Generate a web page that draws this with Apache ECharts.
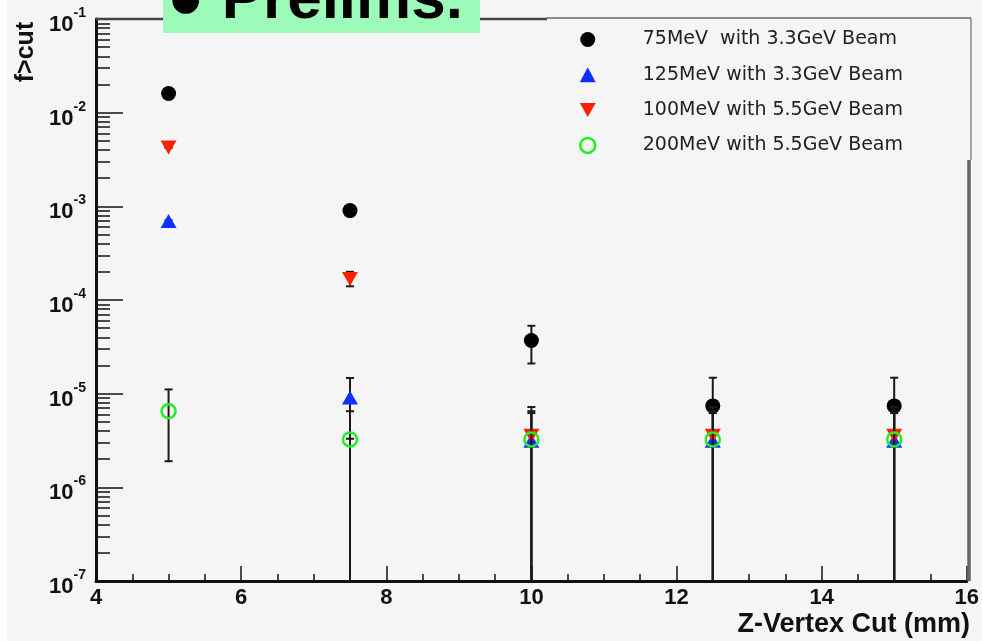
<!DOCTYPE html>
<html>
<head>
<meta charset="utf-8">
<script src="https://cdn.jsdelivr.net/npm/echarts@6/dist/echarts.min.js"></script>
<style>
  html, body { margin: 0; padding: 0; background: #f5f5f5; }
  #chart { width: 982px; height: 641px; }
</style>
</head>
<body>
<div id="chart"></div>
<script>
// Z-vertex cut positions (mm)
const zCuts = [5, 7.5, 10, 12.5, 15];

// Series labels
const seriesNames = [
  '75MeV  with 3.3GeV Beam',
  '125MeV with 3.3GeV Beam',
  '100MeV with 5.5GeV Beam',
  '200MeV with 5.5GeV Beam'
];

// Fraction above cut and its uncertainty, per series
const f75 = [1.6e-2, 9.0e-4, 3.7e-5, 7.4e-6, 7.4e-6];
const f75Err = [3e-4, 3e-5, 1.6e-5, 7.4e-6, 7.4e-6];
const f125 = [6.9e-4, 9.0e-6, 3.1e-6, 3.1e-6, 3.1e-6];
const f125Err = [2e-5, 5.7e-6, 3.1e-6, 3.1e-6, 3.1e-6];
const f100 = [4.3e-3, 1.7e-4, 3.6e-6, 3.6e-6, 3.6e-6];
const f100Err = [1e-4, 3e-5, 3.6e-6, 3.6e-6, 3.6e-6];
const f200 = [6.5e-6, 3.25e-6, 3.25e-6, 3.25e-6, 3.25e-6];
const f200Err = [4.6e-6, 3.25e-6, 3.25e-6, 3.25e-6, 3.25e-6];

// Axis ticks
const xMin = 4, xMax = 16, xStep = 2;
const yDecades = [1e-7, 1e-6, 1e-5, 1e-4, 1e-3, 1e-2, 1e-1];
const yMinorTicks = [];
for (let d = 0; d < yDecades.length - 1; d++) {
  for (let k = 2; k <= 9; k++) yMinorTicks.push(k * yDecades[d]);
}

const FONT = "'Liberation Sans', Arial, Helvetica, sans-serif";
const COLORS = ['#000000', '#1030ff', '#ff2200', '#22ee22'];
const Y_MIN = yDecades[0];
const Y_MAX = yDecades[yDecades.length - 1];

function markerShape(kind, cx, cy, color) {
  if (kind === 'dot') {
    return { type: 'circle', shape: { cx: cx, cy: cy, r: 7.5 }, style: { fill: color } };
  }
  if (kind === 'up') {
    return { type: 'polygon', shape: { points: [[cx, cy - 7.5], [cx - 8, cy + 6.5], [cx + 8, cy + 6.5]] }, style: { fill: color } };
  }
  if (kind === 'down') {
    return { type: 'polygon', shape: { points: [[cx, cy + 7.5], [cx - 8, cy - 6.5], [cx + 8, cy - 6.5]] }, style: { fill: color } };
  }
  return { type: 'circle', shape: { cx: cx, cy: cy, r: 7 }, style: { fill: 'none', stroke: color, lineWidth: 2.5 } };
}

// Error bar with end caps plus a marker at the central value
function makeRenderer(kind, color) {
  return function (params, api) {
    const x = api.value(0), y = api.value(1), e = api.value(2);
    const c = api.coord([x, y]);
    const hi = api.coord([x, Math.min(y + e, Y_MAX)]);
    const low = y - e;
    const lo = api.coord([x, Math.max(low, Y_MIN)]);
    const bar = { stroke: '#1a1a1a', lineWidth: 2 };
    const children = [
      { type: 'line', shape: { x1: c[0], y1: hi[1], x2: c[0], y2: lo[1] }, style: bar },
      { type: 'line', shape: { x1: c[0] - 4, y1: hi[1], x2: c[0] + 4, y2: hi[1] }, style: bar }
    ];
    if (low > Y_MIN) {
      children.push({ type: 'line', shape: { x1: c[0] - 4, y1: lo[1], x2: c[0] + 4, y2: lo[1] }, style: bar });
    }
    children.push(markerShape(kind, c[0], c[1], color));
    return { type: 'group', children: children };
  };
}

function buildSeries(name, values, errs, kind, color) {
  return {
    name: name,
    type: 'custom',
    itemStyle: { color: color },
    encode: { x: 0, y: 1 },
    data: zCuts.map((z, i) => [z, values[i], errs[i]]),
    renderItem: makeRenderer(kind, color),
    clip: true
  };
}

const chart = echarts.init(document.getElementById('chart'), null, { renderer: 'canvas' });

const option = {
  backgroundColor: '#f5f5f5',
  animation: false,
  grid: { left: 96, right: 13, top: 19, bottom: 60 },
  xAxis: {
    type: 'value',
    min: xMin,
    max: xMax,
    interval: xStep,
    axisLine: { show: true, lineStyle: { color: '#111', width: 3 } },
    axisTick: { inside: true, length: 15, lineStyle: { color: '#111', width: 1.5 } },
    minorTick: { show: true, splitNumber: 4, length: 7, lineStyle: { color: '#111', width: 1.5 } },
    splitLine: { show: false },
    axisLabel: { margin: 6, fontFamily: FONT, fontWeight: 'bold', fontSize: 22, color: '#111' }
  },
  yAxis: [
    {
      type: 'log',
      logBase: 10,
      min: Y_MIN,
      max: Y_MAX,
      axisLine: { show: true, lineStyle: { color: '#111', width: 3 } },
      axisTick: { inside: true, length: 27, customValues: yDecades, lineStyle: { color: '#111', width: 1.5 } },
      splitLine: { show: false },
      axisLabel: {
        margin: 10,
        customValues: yDecades,
        formatter: function (v) {
          return '{b|10}{s|' + Math.round(Math.log10(v)) + '}';
        },
        rich: {
          b: { fontFamily: FONT, fontWeight: 'bold', fontSize: 22, color: '#111', padding: [12, 0, 0, 0] },
          s: { fontFamily: FONT, fontWeight: 'bold', fontSize: 14, color: '#111', padding: [0, 0, 12, 0] }
        }
      }
    },
    {
      type: 'log',
      logBase: 10,
      min: Y_MIN,
      max: Y_MAX,
      position: 'left',
      axisLine: { show: false },
      axisTick: { show: true, inside: true, length: 14, customValues: yMinorTicks, lineStyle: { color: '#111', width: 1.5 } },
      axisLabel: { show: false },
      splitLine: { show: false }
    }
  ],
  legend: {
    orient: 'vertical',
    left: 579,
    top: 30,
    padding: 0,
    itemWidth: 16,
    itemHeight: 15,
    itemGap: 16.3,
    selectedMode: false,
    textStyle: { fontFamily: "'DejaVu Sans', sans-serif", fontSize: 19, color: '#222', padding: [0, 0, 0, 42] },
    data: [
      { name: seriesNames[0], icon: 'circle' },
      { name: seriesNames[1], icon: 'triangle' },
      { name: seriesNames[2], icon: 'path://M0,0L16,0L8,14Z' },
      { name: seriesNames[3], icon: 'circle', itemStyle: { color: 'rgba(0,0,0,0)', borderColor: COLORS[3], borderWidth: 2.5 } }
    ]
  },
  series: [
    buildSeries(seriesNames[0], f75, f75Err, 'dot', COLORS[0]),
    buildSeries(seriesNames[1], f125, f125Err, 'up', COLORS[1]),
    buildSeries(seriesNames[2], f100, f100Err, 'down', COLORS[2]),
    buildSeries(seriesNames[3], f200, f200Err, 'ring', COLORS[3])
  ],
  graphic: [
    // left page margin
    { type: 'rect', left: 0, top: 0, shape: { width: 7, height: 641 }, style: { fill: '#ffffff' }, z: 0 },
    // frame: top and right edges
    { type: 'line', shape: { x1: 96, y1: 19, x2: 547, y2: 19 }, style: { stroke: '#444', lineWidth: 2.5 }, z: 10 },
    { type: 'line', shape: { x1: 969, y1: 160, x2: 969, y2: 581 }, style: { stroke: '#666', lineWidth: 3.5 }, z: 10 },
    // legend box edges
    { type: 'line', shape: { x1: 547, y1: 18, x2: 971, y2: 18 }, style: { stroke: '#8a8a8a', lineWidth: 2 }, z: 10 },
    { type: 'line', shape: { x1: 971, y1: 18, x2: 971, y2: 160 }, style: { stroke: '#8a8a8a', lineWidth: 1.5 }, z: 10 },
    // axis titles
    {
      type: 'text', x: 970, y: 625, z: 10,
      style: { text: 'Z-Vertex Cut (mm)', align: 'right', verticalAlign: 'middle', font: 'bold 27px ' + FONT, fill: '#111' }
    },
    {
      type: 'text', x: 26, y: 52, rotation: Math.PI / 2, z: 10,
      style: { text: 'f>cut', align: 'center', verticalAlign: 'middle', font: 'bold 25px ' + FONT, fill: '#111' }
    },
    // heading banner
    { type: 'rect', shape: { x: 163, y: 0, width: 317, height: 33 }, style: { fill: '#9dfbb9' }, z: 20 },
    {
      type: 'text', x: 167, y: 1, z: 21,
      style: { text: '● Prelims.', align: 'left', verticalAlign: 'middle', font: 'bold 62px ' + FONT, fill: '#000' }
    }
  ]
};

chart.setOption(option);
</script>
</body>
</html>
